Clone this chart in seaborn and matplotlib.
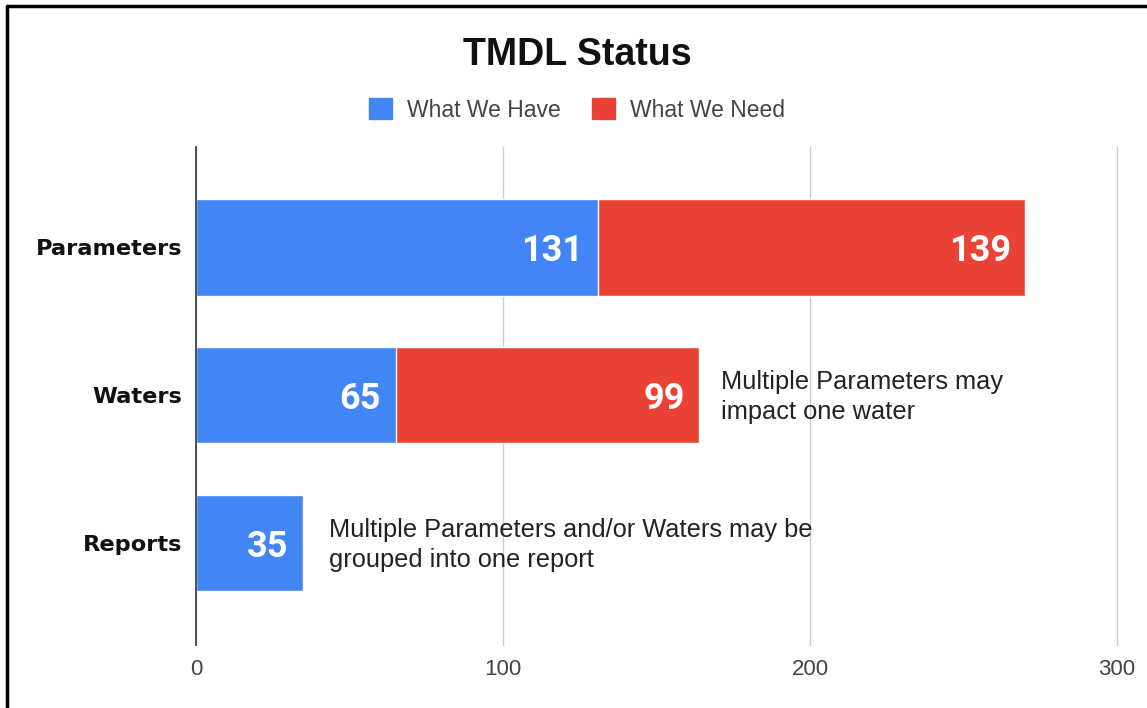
import numpy as np
import pandas as pd
import matplotlib
matplotlib.use("Agg")
import matplotlib.pyplot as plt
import seaborn as sns
from matplotlib.patches import Patch
from matplotlib.lines import Line2D

# Veriler
kategoriler = ["Parameters", "Waters", "Reports"]
sahip_olunan = [131, 65, 35]      # What We Have
gereken = [139, 99, 0]            # What We Need
notlar = ["", "Multiple Parameters may\nimpact one water",
          "Multiple Parameters and/or Waters may be\ngrouped into one report"]
not_kaydirma = [0, 22, 26]        # px, bar ucundan uzaklik
x_ticks = [0, 100, 200, 300]

MAVI = "#4285F4"
KIRMIZI = "#EA4335"
GRI = "#444444"

df = pd.DataFrame({"kategori": kategoriler, "sahip": sahip_olunan, "gereken": gereken})
df["toplam"] = df["sahip"] + df["gereken"]

sns.set_theme(style="white")
plt.rcParams["font.family"] = ["Liberation Sans", "DejaVu Sans"]

fig = plt.figure(figsize=(11.47, 7.08), dpi=100)
ax = fig.add_axes([196 / 1147, 1 - 645 / 708, (1117 - 196) / 1147, (645 - 147) / 708])

# Yigin barlar: once toplam (kirmizi), sonra mavi ustune
sns.barplot(data=df, x="toplam", y="kategori", color=KIRMIZI, width=0.65,
            orient="h", ax=ax, saturation=1)
sns.barplot(data=df, x="sahip", y="kategori", color=MAVI, width=0.65,
            orient="h", ax=ax, saturation=1)

ax.set_xlim(0, 300)
ax.set_ylim(2.69, -0.68)
ax.set_xticks(x_ticks)
ax.set_xticklabels([str(t) for t in x_ticks], fontsize=16, color=GRI)
ax.tick_params(axis="x", length=0, pad=10)
ax.tick_params(axis="y", length=0, pad=10)
ax.set_yticks(range(len(kategoriler)))
ax.set_yticklabels(kategoriler, fontsize=16.2, fontweight="bold", color="#111111",
                   family="DejaVu Sans")
ax.set_xlabel("")
ax.set_ylabel("")
ax.grid(axis="x", color="#cccccc", linewidth=1)
for gl in ax.get_xgridlines():
    gl.set_clip_on(False)
ax.set_axisbelow(True)
for s in ["top", "right", "bottom"]:
    ax.spines[s].set_visible(False)
ax.spines["left"].set_color("#333333")
ax.spines["left"].set_linewidth(1.2)
ax.spines["left"].set_zorder(5)

# Deger etiketleri
for i, row in df.iterrows():
    ax.annotate(str(row["sahip"]), (row["sahip"], i), xytext=(-15, 0),
                textcoords="offset pixels", ha="right", va="center_baseline",
                color="white", fontsize=26, fontweight="bold", family="Roboto")
    if row["gereken"] > 0:
        ax.annotate(str(row["gereken"]), (row["toplam"], i), xytext=(-14, 0),
                    textcoords="offset pixels", ha="right", va="center_baseline",
                    color="white", fontsize=26, fontweight="bold", family="Roboto")
    if notlar[i]:
        ax.annotate(notlar[i], (row["toplam"], i), xytext=(not_kaydirma[i], -2),
                    textcoords="offset pixels", ha="left", va="center",
                    color="#222222", fontsize=18.3, linespacing=1.3)

# Baslik ve lejant
fig.text(577 / 1147, 1 - 55 / 708, "TMDL Status", ha="center", va="center",
         fontsize=27, fontweight="bold", color="#111111")
handles = [Patch(facecolor=MAVI, edgecolor=MAVI, label="What We Have"),
           Patch(facecolor=KIRMIZI, edgecolor=KIRMIZI, label="What We Need")]
leg = fig.legend(handles=handles, loc="center", bbox_to_anchor=(577 / 1147, 1 - 110 / 708),
                 ncol=2, frameon=False, fontsize=16.5, handlelength=1.0, handleheight=1.0,
                 handletextpad=0.65, columnspacing=1.35)
for t in leg.get_texts():
    t.set_color(GRI)

# Cerceve (sol ve ust)
fig.add_artist(Line2D([7 / 1147, 7 / 1147], [0, 1 - 6 / 708], color="black",
                      linewidth=2.5, transform=fig.transFigure))
fig.add_artist(Line2D([7 / 1147, 1], [1 - 6 / 708, 1 - 6 / 708], color="black",
                      linewidth=2.5, transform=fig.transFigure))

fig.savefig("out.png", dpi=100)
